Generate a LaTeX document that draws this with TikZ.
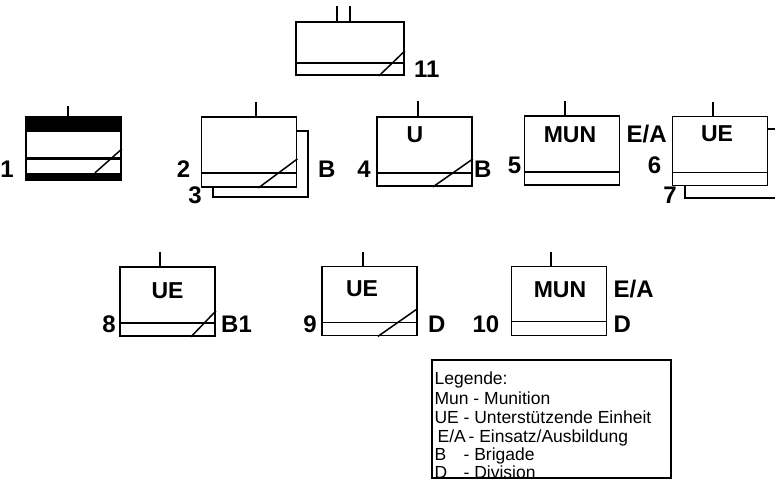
\documentclass[tikz,border=0pt]{standalone}
\usepackage{fontspec}
\setmainfont{Liberation Sans}
\usetikzlibrary{calc}
\usetikzlibrary{positioning}

\begin{document}
\begin{tikzpicture}[x=1pt,y=-1pt,semithick]
 \tikzstyle{unitbox}=[draw, rectangle, line width=1.8pt, inner sep=0pt, minimum width=95pt, minimum height=69pt, fill=white]
 \tikzstyle{divline}=[line width=1.5pt]
 \tikzstyle{numlbl}=[inner sep=0pt, font=\fontsize{24}{26}\selectfont\bfseries]
 \tikzstyle{unitlbl}=[inner sep=0pt, font=\fontsize{23}{25}\selectfont\bfseries]
 \tikzstyle{legline}=[inner sep=0pt, anchor=base west, font=\fontsize{17.5}{20}\selectfont]
 \useasboundingbox (0,0) rectangle (775,484);

 % top unit
 \node[unitbox, minimum width=108pt, minimum height=53pt] (b11) at (350,48.5) {};
 \draw[divline] ([yshift=13pt]b11.south west) -- ([yshift=13pt]b11.south east);
 \draw[divline] ([xshift=-26pt]b11.south east) -- ([yshift=25pt]b11.south east);
 \draw[divline] ([xshift=-13pt]b11.north) -- ++(0pt,15pt);
 \draw[divline] (b11.north) -- ++(0pt,15pt);
 \node[numlbl, anchor=base west] (n11) at ([shift={(9pt,-2pt)}]b11.south east) {11};

 % 1
 \node[unitbox, minimum height=63pt] (b1) at (73.5,148.5) {};
 \fill (b1.north west) rectangle ([yshift=-16pt]b1.north east);
 \fill ([yshift=8pt]b1.south west) rectangle (b1.south east);
 \draw[line width=3pt] ([yshift=22pt]b1.south west) -- ([yshift=22pt]b1.south east);
 \draw[divline] ([shift={(-27pt,8pt)}]b1.south east) -- ([yshift=32pt]b1.south east);
 \draw[divline] ([xshift=-5.5pt]b1.north) -- ++(0pt,10pt);
 \node[numlbl, anchor=base east] (n1) at ([shift={(-11pt,3pt)}]b1.south west) {1};

 % 2 and 3
 \node[unitbox, minimum height=66pt] (b3) at (260.5,164) {};
 \node[unitbox, minimum height=70pt] (b2) at (249,152) {};
 \draw[divline] ([yshift=15pt]b2.south west) -- ([yshift=15pt]b2.south east);
 \draw[divline] ([xshift=-39pt]b2.south east) -- ([yshift=29pt]b2.south east);
 \draw[divline] ([xshift=7pt]b2.north) -- ++(0pt,14pt);
 \node[numlbl, anchor=base east] (n2) at ([shift={(-10pt,10pt)}]b2.south west) {2};
 \node[numlbl, anchor=base east] (n3) at ([shift={(-10pt,-6pt)}]b3.south west) {3};
 \node[numlbl, anchor=base west] (r2) at ([shift={(9pt,20pt)}]b3.south east) {B};

 % 4
 \node[unitbox] (b4) at (424.5,151.5) {};
 \draw[divline] ([yshift=14pt]b4.south west) -- ([yshift=14pt]b4.south east);
 \draw[divline] ([xshift=-40pt]b4.south east) -- ([yshift=28pt]b4.south east);
 \draw[divline] ([xshift=-6.5pt]b4.north) -- ++(0pt,15pt);
 \node[unitlbl, anchor=base] (t4) at ([shift={(-9.5pt,-26pt)}]b4.north) {U};
 \node[numlbl, anchor=base east] (n4) at ([shift={(-5pt,9pt)}]b4.south west) {4};
 \node[numlbl, anchor=base west] (r4) at ([shift={(1pt,9pt)}]b4.south east) {B};

 % 5
 \node[unitbox] (b5) at (572,150.5) {};
 \draw[divline] ([yshift=14pt]b5.south west) -- ([yshift=14pt]b5.south east);
 \draw[divline] ([xshift=-7pt]b5.north) -- ++(0pt,14pt);
 \node[unitlbl, anchor=base] (t5) at ([shift={(-2pt,-27pt)}]b5.north) {MUN};
 \node[numlbl, anchor=base east] (n5) at ([shift={(-2pt,12pt)}]b5.south west) {5};
 \node[numlbl, anchor=base west] (r5) at ([shift={(6pt,-27pt)}]b5.north east) {E/A};

 % 6 and 7
 \node[unitbox] (b7) at (732.5,163.5) {};
 \node[unitbox] (b6) at (720,151) {};
 \draw[divline] ([yshift=14pt]b6.south west) -- ([yshift=14pt]b6.south east);
 \draw[divline] ([xshift=-7pt]b6.north) -- ++(0pt,14pt);
 \node[unitlbl, anchor=base] (t6) at ([shift={(-3pt,-26pt)}]b6.north) {UE};
 \node[numlbl, anchor=base east] (n6) at ([shift={(-10pt,12.5pt)}]b6.south west) {6};
 \node[numlbl, anchor=base east] (n7) at ([shift={(-7pt,-5pt)}]b7.south west) {7};

 % 8
 \node[unitbox] (b8) at (167.5,301.5) {};
 \draw[divline] ([yshift=14pt]b8.south west) -- ([yshift=14pt]b8.south east);
 \draw[divline] ([xshift=-25pt]b8.south east) -- ([yshift=26pt]b8.south east);
 \draw[divline] ([xshift=-7.5pt]b8.north) -- ++(0pt,14pt);
 \node[unitlbl, anchor=base] (t8) at ([shift={(0pt,-32pt)}]b8.north) {UE};
 \node[numlbl, anchor=base east] (n8) at ([shift={(-3pt,4pt)}]b8.south west) {8};
 \node[numlbl, anchor=base west] (r8) at ([shift={(5pt,4pt)}]b8.south east) {B1};

 % 9
 \node[unitbox] (b9) at (369.5,301) {};
 \draw[divline] ([yshift=14pt]b9.south west) -- ([yshift=14pt]b9.south east);
 \draw[divline] ([xshift=-40pt]b9.south east) -- ([yshift=28pt]b9.south east);
 \draw[divline] ([xshift=-6.5pt]b9.north) -- ++(0pt,14pt);
 \node[unitlbl, anchor=base] (t9) at ([shift={(-7.5pt,-31pt)}]b9.north) {UE};
 \node[numlbl, anchor=base east] (n9) at ([shift={(-4pt,4pt)}]b9.south west) {9};
 \node[numlbl, anchor=base west] (r9) at ([shift={(10pt,4pt)}]b9.south east) {D};

 % 10
 \node[unitbox] (b10) at (559,301) {};
 \draw[divline] ([yshift=15pt]b10.south west) -- ([yshift=15pt]b10.south east);
 \draw[divline] ([xshift=-8pt]b10.north) -- ++(0pt,14pt);
 \node[unitlbl, anchor=base] (t10) at ([shift={(1pt,-32pt)}]b10.north) {MUN};
 \node[numlbl, anchor=base east] (n10) at ([shift={(-11pt,4pt)}]b10.south west) {10};
 \node[numlbl, anchor=base west] (r10a) at ([shift={(6pt,-32pt)}]b10.north east) {E/A};
 \node[numlbl, anchor=base west] (r10b) at ([shift={(6pt,4pt)}]b10.south east) {D};

 % legend
 \node[draw, line width=1.4pt, inner sep=0pt, minimum width=239pt, minimum height=118pt] (leg) at (551.5,419) {};
 \begin{scope}
  \clip (leg.south west) rectangle (leg.north east);
  \node[legline] (l1) at ([shift={(3pt,-25pt)}]leg.north west) {Legende:};
  \node[legline] (l2) at ([shift={(3pt,-45pt)}]leg.north west) {Mun - Munition};
  \node[legline] (l3) at ([shift={(3pt,-64pt)}]leg.north west) {\makebox[29pt][l]{UE}- Unterstützende Einheit};
  \node[legline] (l4) at ([shift={(6pt,-83pt)}]leg.north west) {\makebox[31pt][l]{E/A}- Einsatz/Ausbildung};
  \node[legline] (l5) at ([shift={(3pt,-101pt)}]leg.north west) {\makebox[29pt][l]{B}- Brigade};
  \node[legline] (l6) at ([shift={(3pt,-119pt)}]leg.north west) {\makebox[29pt][l]{D}- Division};
 \end{scope}
\end{tikzpicture}
\end{document}
